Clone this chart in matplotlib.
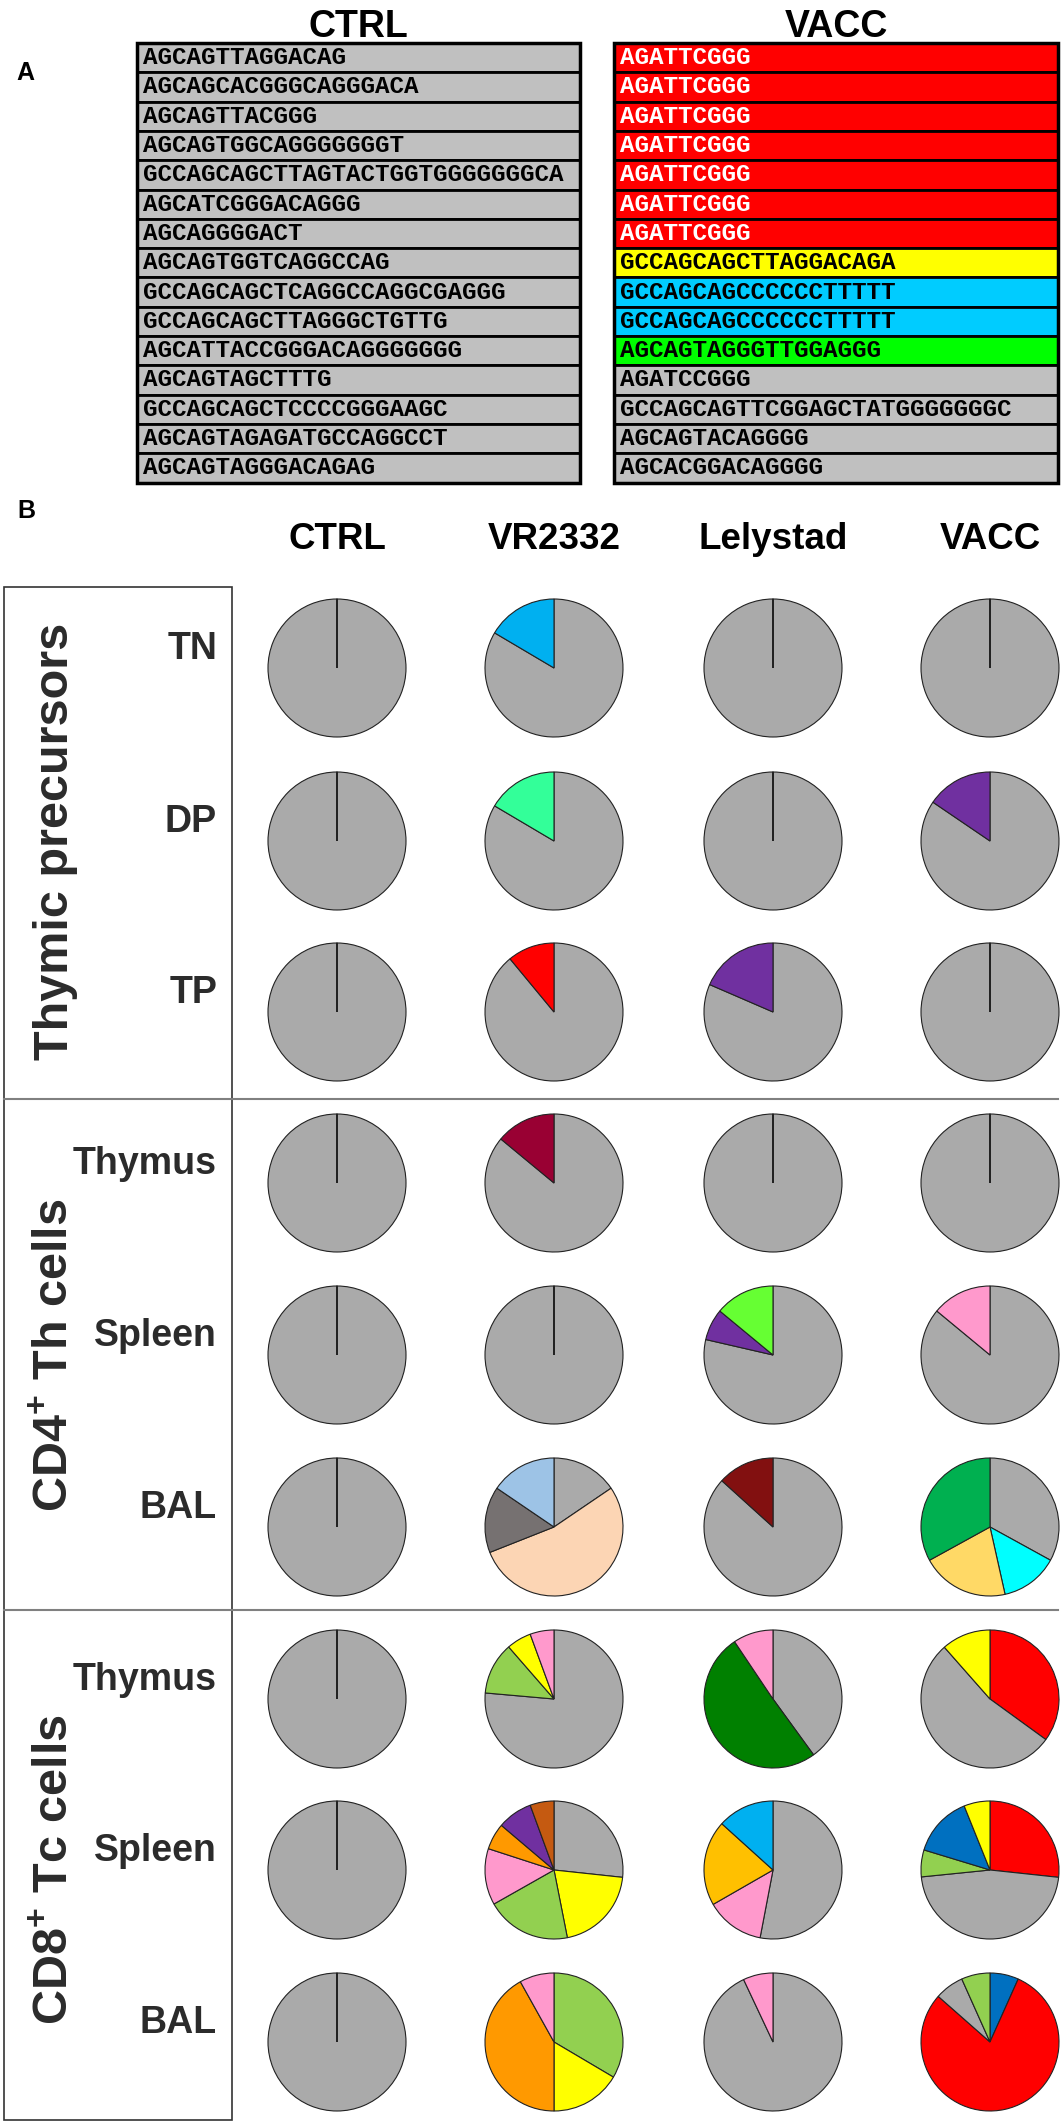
import numpy as np
import matplotlib
matplotlib.use('Agg')
import matplotlib.pyplot as plt
from matplotlib.patches import Rectangle

plt.rcParams['font.family'] = ['Liberation Sans', 'DejaVu Sans']
plt.rcParams['mathtext.fontset'] = 'custom'
plt.rcParams['mathtext.rm'] = 'Liberation Sans'
plt.rcParams['mathtext.bf'] = 'Liberation Sans:bold'

W, H = 1063, 2126

# ---- panel A: CDR3 sequences ----
ctrl_seqs = ['AGCAGTTAGGACAG', 'AGCAGCACGGGCAGGGACA', 'AGCAGTTACGGG',
             'AGCAGTGGCAGGGGGGGT', 'GCCAGCAGCTTAGTACTGGTGGGGGGGCA',
             'AGCATCGGGACAGGG', 'AGCAGGGGACT', 'AGCAGTGGTCAGGCCAG',
             'GCCAGCAGCTCAGGCCAGGCGAGGG', 'GCCAGCAGCTTAGGGCTGTTG',
             'AGCATTACCGGGACAGGGGGGG', 'AGCAGTAGCTTTG', 'GCCAGCAGCTCCCCGGGAAGC',
             'AGCAGTAGAGATGCCAGGCCT', 'AGCAGTAGGGACAGAG']
vacc_seqs = ['AGATTCGGG'] * 7 + ['GCCAGCAGCTTAGGACAGA', 'GCCAGCAGCCCCCCTTTTT',
             'GCCAGCAGCCCCCCTTTTT', 'AGCAGTAGGGTTGGAGGG', 'AGATCCGGG',
             'GCCAGCAGTTCGGAGCTATGGGGGGGC', 'AGCAGTACAGGGG', 'AGCACGGACAGGGG']
ctrl_fill = ['#C0C0C0'] * 15
vacc_fill = ['#FF0000'] * 7 + ['#FFFF00', '#00CCFF', '#00CCFF', '#00FF00'] + ['#C0C0C0'] * 4

# ---- panel B: clonotype shares (clockwise from 12 o'clock) ----
columns = ['CTRL', 'VR2332', 'Lelystad', 'VACC']
row_labels = ['TN', 'DP', 'TP', 'Thymus', 'Spleen', 'BAL', 'Thymus', 'Spleen', 'BAL']
group_labels = ['Thymic precursors', r'CD4$^{\mathbf{+}}$ Th cells', r'CD8$^{\mathbf{+}}$ Tc cells']

GRAY = '#AAAAAA'

ctrl_vals = [[100]] * 9
ctrl_cols = [[GRAY]] * 9

vr2332_vals = [[83.5, 16.5], [83.5, 16.5], [89, 11], [86, 14], [100],
               [15.5, 53.5, 15.5, 15.5],
               [76.4, 12.2, 5.8, 5.6],
               [26.7, 20.2, 19.9, 13.2, 6.2, 8.2, 5.6],
               [33.5, 16.5, 41.9, 8.1]]
vr2332_cols = [[GRAY, '#00B0F0'], [GRAY, '#33FF99'], [GRAY, '#FF0000'],
               [GRAY, '#990033'], [GRAY],
               [GRAY, '#FCD5B4', '#767171', '#9DC3E6'],
               [GRAY, '#92D050', '#FFFF00', '#FF99CC'],
               [GRAY, '#FFFF00', '#92D050', '#FF99CC', '#FF9900', '#7030A0', '#C55A11'],
               ['#92D050', '#FFFF00', '#FF9900', '#FF99CC']]

lelystad_vals = [[100], [100], [81.5, 18.5], [100],
                 [78.6, 7.4, 14],
                 [86.7, 13.3],
                 [40, 50.6, 9.4],
                 [53, 13.7, 20, 13.3],
                 [93, 7]]
lelystad_cols = [[GRAY], [GRAY], [GRAY, '#7030A0'], [GRAY],
                 [GRAY, '#7030A0', '#66FF33'],
                 [GRAY, '#821010'],
                 [GRAY, '#008000', '#FF99CC'],
                 [GRAY, '#FF99CC', '#FFC000', '#00B0F0'],
                 [GRAY, '#FF99CC']]

vacc_vals = [[100], [84.5, 15.5], [100], [100],
             [86, 14],
             [33, 13.5, 20.5, 33],
             [35, 53.5, 11.5],
             [26.7, 46.7, 6.3, 14.2, 6.1],
             [6.7, 79.8, 6.8, 6.7]]
vacc_cols = [[GRAY], [GRAY, '#7030A0'], [GRAY], [GRAY],
             [GRAY, '#FF99CC'],
             [GRAY, '#00FFFF', '#FFD966', '#00B050'],
             ['#FF0000', GRAY, '#FFFF00'],
             ['#FF0000', GRAY, '#92D050', '#0070C0', '#FFFF00'],
             ['#0070C0', '#FF0000', GRAY, '#92D050']]

all_vals = [ctrl_vals, vr2332_vals, lelystad_vals, vacc_vals]
all_cols = [ctrl_cols, vr2332_cols, lelystad_cols, vacc_cols]


def Y(y):
    # pixel row (from top) -> data y
    return H - y


fig = plt.figure(figsize=(W / 100, H / 100), dpi=100)
ax = fig.add_axes([0, 0, 1, 1])

# ---- panel A ----
ax.text(25, Y(80), 'A', fontsize=18, fontweight='bold', ha='center', va='baseline')

top, rh = 43, 29.3
tables = [(137, 580, 'CTRL', ctrl_seqs, ctrl_fill),
          (614, 1058, 'VACC', vacc_seqs, vacc_fill)]
for x0, x1, title, seqs, fills in tables:
    ax.text((x0 + x1) / 2, Y(37), title, fontsize=27, fontweight='bold',
            ha='center', va='baseline')
    for i, (s, fc) in enumerate(zip(seqs, fills)):
        ax.add_patch(Rectangle((x0, Y(top + (i + 1) * rh)), x1 - x0, rh,
                               facecolor=fc, edgecolor='black', lw=2))
        tc = 'white' if fc == '#FF0000' else 'black'
        ax.text(x0 + 6, Y(top + (i + 0.5) * rh), s, color=tc, fontsize=17.5,
                fontfamily='Liberation Mono', fontweight='bold', va='center')
    ax.add_patch(Rectangle((x0, Y(top + len(seqs) * rh)), x1 - x0, len(seqs) * rh,
                           facecolor='none', edgecolor='black', lw=2.5))

# ---- panel B ----
ax.text(26, Y(518), 'B', fontsize=18, fontweight='bold', ha='center', va='baseline')

col_x = [337, 554, 773, 990]
row_y = [668, 841, 1012, 1183, 1355, 1527, 1699, 1870, 2042]
R = 69

for cx, name in zip(col_x, columns):
    ax.text(cx, Y(549), name, fontsize=26.5, fontweight='bold', ha='center', va='baseline')

for ci in range(4):
    for ri in range(9):
        vals = all_vals[ci][ri]
        wedges, _ = ax.pie(vals, colors=all_cols[ci][ri], startangle=90,
                           counterclock=False, center=(col_x[ci], Y(row_y[ri])),
                           radius=R, frame=True,
                           wedgeprops=dict(edgecolor='#222222', linewidth=0.8))
        if len(vals) == 1:
            # keep the seam of a single slice at 12 o'clock
            wedges[0].set_theta1(wedges[0].theta1 + 1e-3)

for ry, lab in zip(row_y, row_labels):
    ax.text(217, Y(ry - 9), lab, fontsize=27, fontweight='bold', color='#2b2b2b',
            ha='right', va='baseline')

for gi, lab in enumerate(group_labels):
    ax.text(56, Y(row_y[3 * gi + 1]), lab, fontsize=35, fontweight='bold',
            color='#2b2b2b', rotation=90, ha='center', va='center')

# label box and group separators
ax.add_patch(Rectangle((4, Y(2120)), 228, 2120 - 587, facecolor='none',
                       edgecolor='#333333', lw=1.2))
for sy in [1099, 1610]:
    ax.plot([4, 1058], [Y(sy), Y(sy)], color='#808080', lw=1.5)

ax.set_xlim(0, W)
ax.set_ylim(0, H)
ax.set_aspect('equal')
ax.axis('off')
fig.savefig('out.png', dpi=100, facecolor='white')
